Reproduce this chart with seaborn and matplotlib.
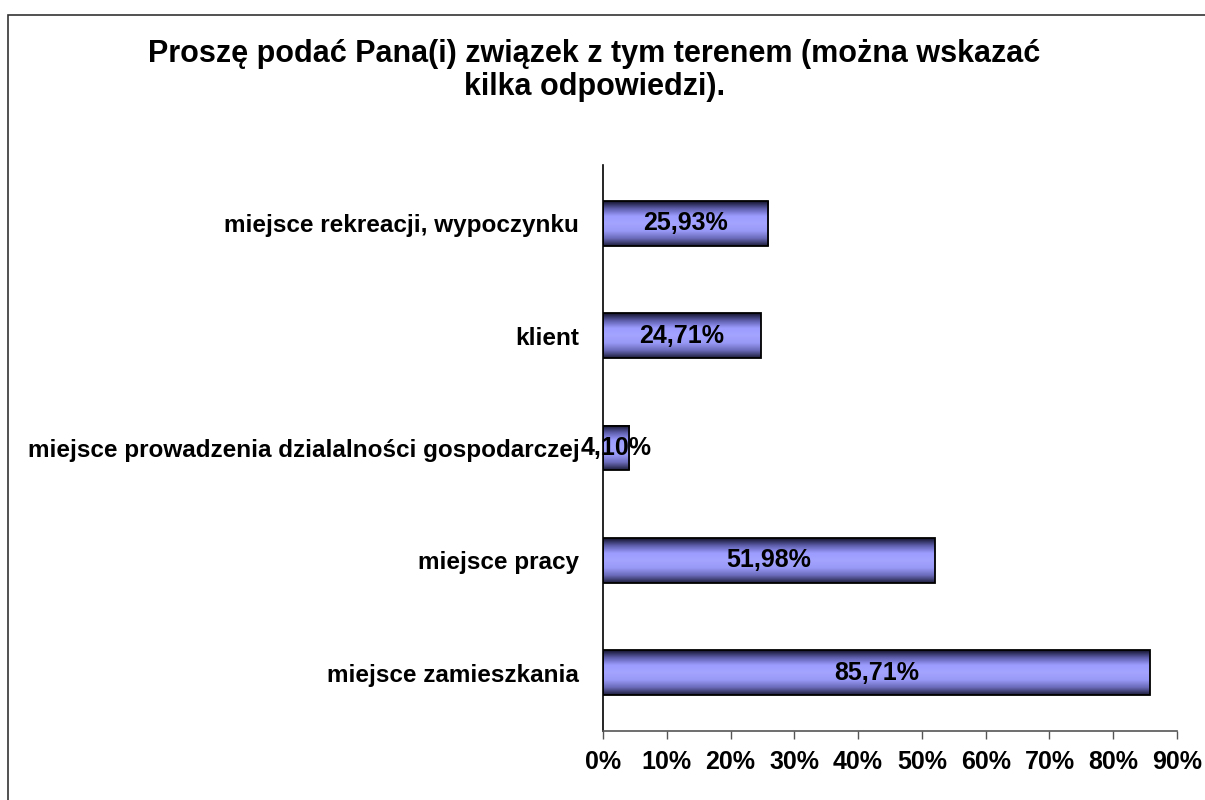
import matplotlib
matplotlib.use('Agg')
import numpy as np
import pandas as pd
import matplotlib.pyplot as plt
import seaborn as sns
from matplotlib.colors import LinearSegmentedColormap
from matplotlib.patches import Rectangle
from matplotlib.ticker import FuncFormatter

# chart data
categories = ['miejsce rekreacji, wypoczynku', 'klient',
              'miejsce prowadzenia dzialalności gospodarczej',
              'miejsce pracy', 'miejsce zamieszkania']
values = [25.93, 24.71, 4.10, 51.98, 85.71]
value_labels = ['25,93%', '24,71%', '4,10%', '51,98%', '85,71%']
x_ticks = [0, 10, 20, 30, 40, 50, 60, 70, 80, 90]

df = pd.DataFrame({'category': categories, 'value': values})

sns.set_style('white')
plt.rcParams['font.family'] = ['Liberation Sans', 'DejaVu Sans']
plt.rcParams['font.weight'] = 'bold'
plt.rcParams['text.color'] = 'black'
plt.rcParams['xtick.labelcolor'] = 'black'
plt.rcParams['ytick.labelcolor'] = 'black'

fig = plt.figure(figsize=(12.05, 8), dpi=100)
ax = fig.add_axes([0.5004, 0.08625, 0.4764, 0.7075])

sns.barplot(data=df, x='value', y='category', orient='h', width=0.4,
            color='#9999ff', ax=ax)

# cylinder-like gradient fill for each bar
cmap = LinearSegmentedColormap.from_list(
    'bar', ['#14142e', '#6060b0', '#9c9cff', '#a4a4ff', '#9898f6', '#6c6cbc', '#20203f'])
grad = np.linspace(0, 1, 64).reshape(-1, 1)
for p in ax.patches:
    x0, y0, w, h = p.get_x(), p.get_y(), p.get_width(), p.get_height()
    ax.imshow(grad, extent=[x0, x0 + w, y0 + h, y0], aspect='auto',
              cmap=cmap, zorder=1, interpolation='bilinear')
    p.set_facecolor('none')
    p.set_edgecolor('black')
    p.set_linewidth(1.3)
    p.set_zorder(2)

ax.bar_label(ax.containers[0], labels=value_labels, label_type='center',
             fontsize=18, fontweight='bold', color='black', zorder=3)

ax.set_xlim(0, 90)
ax.set_ylim(4.52, -0.52)
ax.set_xticks(x_ticks)
ax.xaxis.set_major_formatter(FuncFormatter(lambda v, pos: f'{v:.0f}%'))
ax.set_xlabel('')
ax.set_ylabel('')
ax.tick_params(axis='x', length=6, width=1, color='#555555', labelsize=18,
               pad=8, bottom=True, direction='out')
ax.tick_params(axis='y', length=0, labelsize=17.5, pad=17)
for lbl in ax.get_xticklabels() + ax.get_yticklabels():
    lbl.set_fontweight('bold')

for s in ['top', 'right']:
    ax.spines[s].set_visible(False)
ax.spines['left'].set_color('black')
ax.spines['left'].set_linewidth(1.2)
ax.spines['bottom'].set_color('#555555')
ax.spines['bottom'].set_linewidth(1.2)

fig.text(0.493, 0.912, 'Proszę podać Pana(i) związek z tym terenem (można wskazać\nkilka odpowiedzi).',
         ha='center', va='center', fontsize=22, fontweight='bold',
         linespacing=1.15)

# outer chart frame
fig.patches.append(Rectangle((8 / 1205, -0.05), 1.1, 1 - 15 / 800 + 0.05,
                             transform=fig.transFigure, fill=False,
                             edgecolor='#333333', linewidth=1.2))

fig.savefig('out.png', dpi=100)
